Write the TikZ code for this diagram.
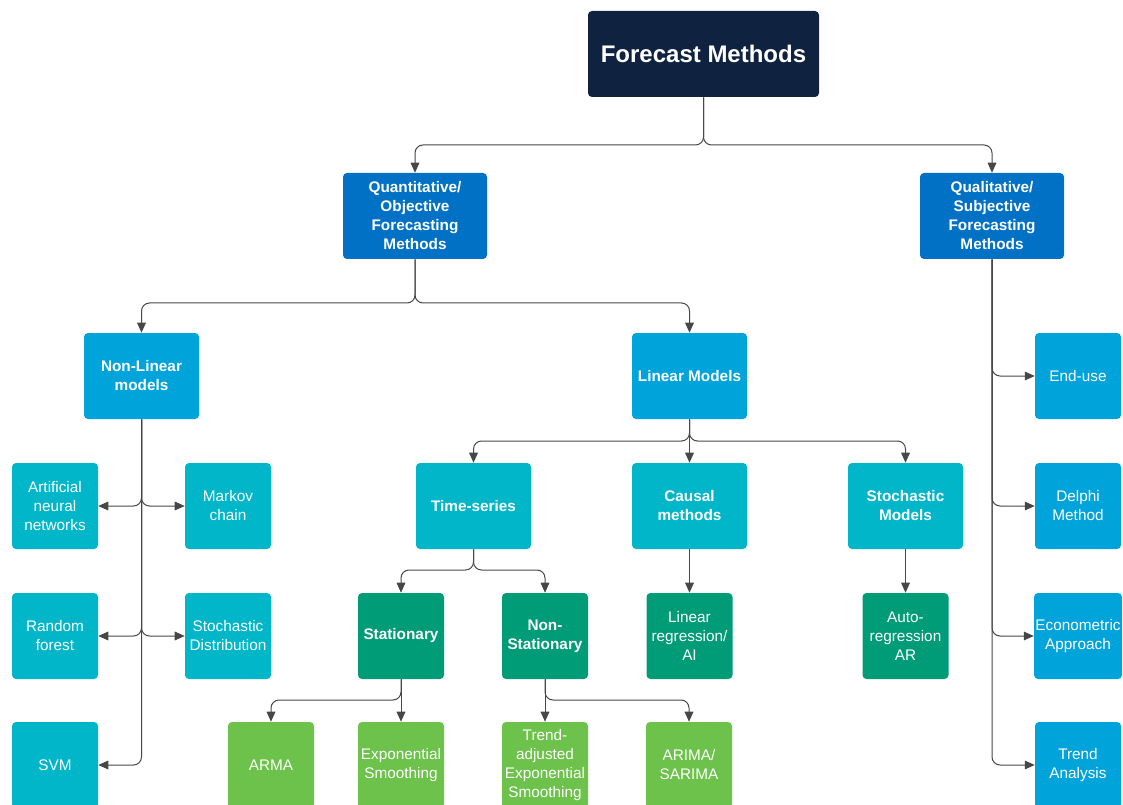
\documentclass[tikz,border=0pt]{standalone}
\usepackage{fontspec}
\setmainfont{Liberation Sans}
\usetikzlibrary{arrows.meta}
\definecolor{navy}{HTML}{0F2341}
\definecolor{qblue}{HTML}{0071C5}
\definecolor{mblue}{HTML}{00A3DA}
\definecolor{teal}{HTML}{00B6C8}
\definecolor{dgreen}{HTML}{009B77}
\definecolor{lgreen}{HTML}{6CC24A}
\definecolor{linegray}{HTML}{474747}
\begin{document}
\begin{tikzpicture}[x=0.75pt,y=-0.75pt,
  box/.style={rectangle, rounded corners=3pt, text=white, align=center, inner sep=1pt,
    font=\fontsize{11.5}{14.25}\selectfont},
  bbox/.style={box, font=\fontsize{11.5}{14.25}\selectfont\bfseries},
  sq/.style={minimum width=64.5pt, minimum height=64.5pt},
  wide/.style={minimum width=86.25pt, minimum height=64.5pt},
  conn/.style={draw=linegray, line width=0.75pt, rounded corners=6pt,
    -{Triangle[length=7.5pt,width=6.5pt]}}
]
\clip (0,0) rectangle (1123,805);
\fill[white] (0,0) rectangle (1123,805);

% top
\node[box, fill=navy, minimum width=173.25pt, minimum height=64.5pt,
  font=\fontsize{18}{22}\selectfont\bfseries] (top) at (703.5,54) {Forecast Methods};

% second level
\node[bbox, fill=qblue, minimum width=108pt, minimum height=64.5pt] (quant) at (415,216)
  {Quantitative/\\Objective\\Forecasting\\Methods};
\node[bbox, fill=qblue, minimum width=108pt, minimum height=64.5pt] (qual) at (992,216)
  {Qualitative/\\Subjective\\Forecasting\\Methods};

% third level
\node[bbox, wide, fill=mblue] (nonlin) at (141.5,376) {Non-Linear\\models};
\node[bbox, wide, fill=mblue] (lin) at (689.5,376) {Linear Models};

% non-linear leaves
\node[box, sq, fill=teal] (ann) at (55,506) {Artificial\\neural\\networks};
\node[box, sq, fill=teal] (markov) at (228,506) {Markov\\chain};
\node[box, sq, fill=teal] (rf) at (55,636) {Random\\forest};
\node[box, sq, fill=teal] (sdist) at (228,636) {Stochastic\\Distribution};
\node[box, sq, fill=teal] (svm) at (55,765) {SVM};

% linear children
\node[bbox, wide, fill=teal] (ts) at (473.5,506) {Time-series};
\node[bbox, wide, fill=teal] (causal) at (689.5,506) {Causal\\methods};
\node[bbox, wide, fill=teal] (stoch) at (905.5,506) {Stochastic\\Models};

% dark green
\node[bbox, sq, fill=dgreen] (stat) at (401,636) {Stationary};
\node[bbox, sq, fill=dgreen] (nonstat) at (545,636) {Non-\\Stationary};
\node[box, sq, fill=dgreen] (linreg) at (689.5,636) {Linear\\regression/\\AI};
\node[box, sq, fill=dgreen] (ar) at (905.5,636) {Auto-\\regression\\AR};

% light green
\node[box, sq, fill=lgreen] (arma) at (271,765) {ARMA};
\node[box, sq, fill=lgreen] (exps) at (401,765) {Exponential\\Smoothing};
\node[box, sq, fill=lgreen] (taes) at (545,765) {Trend-\\adjusted\\Exponential\\Smoothing};
\node[box, sq, fill=lgreen] (arima) at (689,765) {ARIMA/\\SARIMA};

% qualitative leaves
\node[box, sq, fill=mblue] (enduse) at (1078,376) {End-use};
\node[box, sq, fill=mblue] (delphi) at (1078,506) {Delphi\\Method};
\node[box, sq, fill=mblue] (econ) at (1078,636) {Econometric\\Approach};
\node[box, sq, fill=mblue] (trend) at (1078,765) {Trend\\Analysis};

% connectors
\coordinate (s1) at (703.5,145);
\draw[conn] (top.south) -- (s1) -| (quant.north);
\draw[conn] (top.south) -- (s1) -| (qual.north);

\coordinate (s2) at (415,303);
\draw[conn] (quant.south) -- (s2) -| (nonlin.north);
\draw[conn] (quant.south) -- (s2) -| (lin.north);

\draw[conn] (nonlin.south) |- (ann.east);
\draw[conn] (nonlin.south) |- (markov.west);
\draw[conn] (nonlin.south) |- (rf.east);
\draw[conn] (nonlin.south) |- (sdist.west);
\draw[conn] (nonlin.south) |- (svm.east);

\coordinate (s3) at (689.5,441);
\draw[conn] (lin.south) -- (s3) -| (ts.north);
\draw[conn] (lin.south) -- (causal.north);
\draw[conn] (lin.south) -- (s3) -| (stoch.north);

\coordinate (s4) at (473.5,570);
\draw[conn] (ts.south) -- (s4) -| (stat.north);
\draw[conn] (ts.south) -- (s4) -| (nonstat.north);

\draw[conn] (causal.south) -- (linreg.north);
\draw[conn] (stoch.south) -- (ar.north);

\coordinate (s5) at (401,700);
\draw[conn] (stat.south) -- (s5) -| (arma.north);
\draw[conn] (stat.south) -- (exps.north);

\coordinate (s6) at (545,700);
\draw[conn] (nonstat.south) -- (taes.north);
\draw[conn] (nonstat.south) -- (s6) -| (arima.north);

\draw[conn] (qual.south) |- (enduse.west);
\draw[conn] (qual.south) |- (delphi.west);
\draw[conn] (qual.south) |- (econ.west);
\draw[conn] (qual.south) |- (trend.west);
\end{tikzpicture}
\end{document}
